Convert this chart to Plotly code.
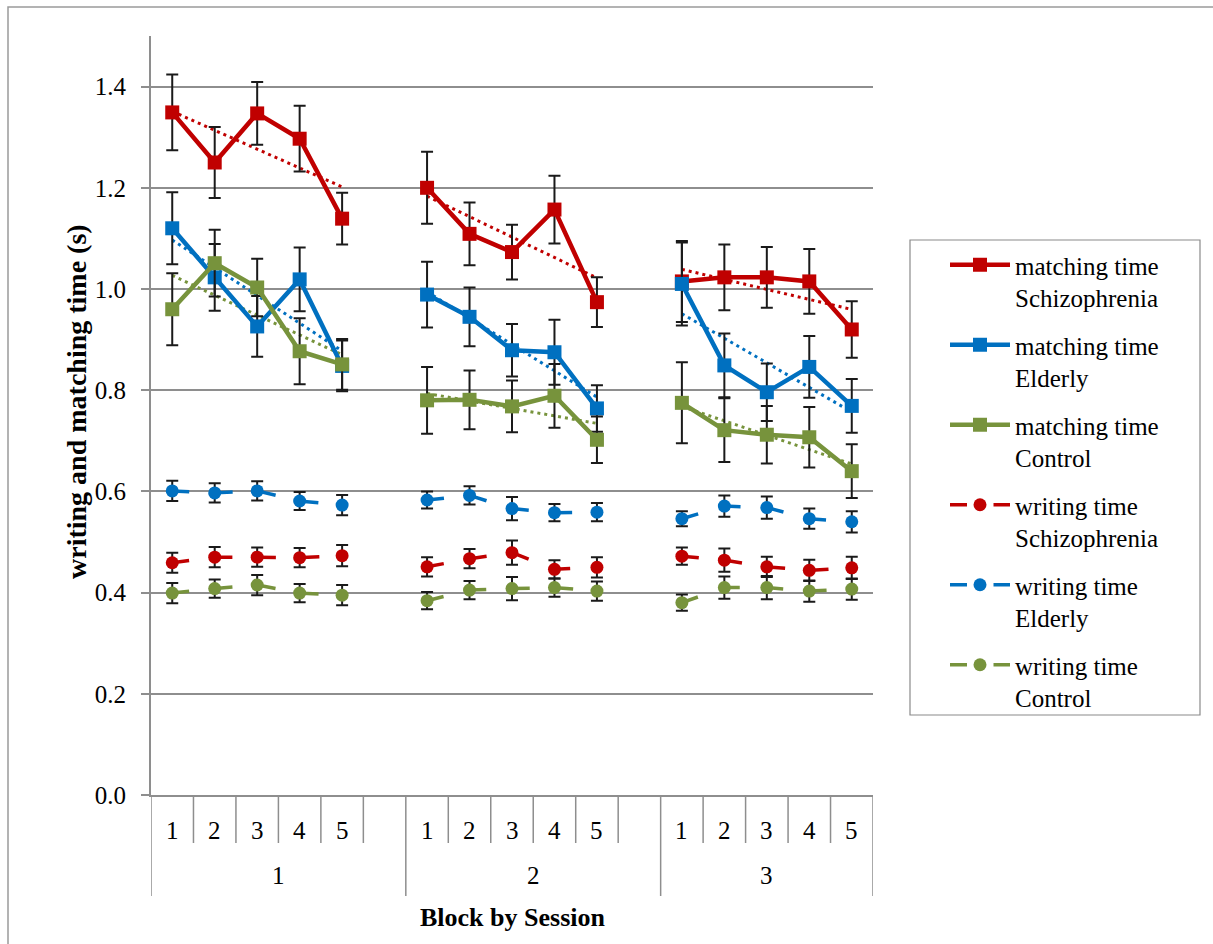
import numpy as np
import plotly.graph_objects as go

# ---- data: one inner list per session, blocks 1..5 ----
sessions = ["1", "2", "3"]
blocks = ["1", "2", "3", "4", "5"]

matching_schizophrenia = [[1.349, 1.250, 1.347, 1.297, 1.139],
                          [1.200, 1.109, 1.073, 1.157, 0.974],
                          [1.015, 1.023, 1.023, 1.015, 0.920]]
matching_schizophrenia_err = [[0.075, 0.070, 0.062, 0.065, 0.051],
                              [0.071, 0.062, 0.054, 0.067, 0.049],
                              [0.080, 0.065, 0.060, 0.064, 0.056]]

matching_elderly = [[1.120, 1.023, 0.926, 1.019, 0.848],
                    [0.989, 0.945, 0.879, 0.875, 0.764],
                    [1.010, 0.849, 0.796, 0.846, 0.769]]
matching_elderly_err = [[0.071, 0.066, 0.060, 0.063, 0.050],
                        [0.065, 0.058, 0.052, 0.064, 0.046],
                        [0.082, 0.063, 0.057, 0.061, 0.053]]

matching_control = [[0.960, 1.051, 1.003, 0.877, 0.851],
                    [0.780, 0.781, 0.768, 0.789, 0.702],
                    [0.775, 0.721, 0.712, 0.707, 0.640]]
matching_control_err = [[0.071, 0.066, 0.057, 0.065, 0.050],
                        [0.066, 0.058, 0.051, 0.063, 0.046],
                        [0.080, 0.063, 0.057, 0.060, 0.053]]

writing_schizophrenia = [[0.459, 0.470, 0.470, 0.469, 0.473],
                         [0.451, 0.467, 0.479, 0.446, 0.450],
                         [0.472, 0.464, 0.451, 0.444, 0.449]]
writing_schizophrenia_err = [[0.020, 0.020, 0.019, 0.019, 0.021],
                             [0.019, 0.019, 0.024, 0.018, 0.020],
                             [0.017, 0.023, 0.020, 0.021, 0.022]]

writing_elderly = [[0.601, 0.597, 0.601, 0.581, 0.573],
                   [0.583, 0.592, 0.566, 0.558, 0.559],
                   [0.546, 0.571, 0.568, 0.546, 0.540]]
writing_elderly_err = [[0.020, 0.019, 0.019, 0.018, 0.020],
                       [0.017, 0.018, 0.023, 0.017, 0.018],
                       [0.015, 0.021, 0.022, 0.020, 0.021]]

writing_control = [[0.399, 0.408, 0.415, 0.399, 0.395],
                   [0.384, 0.405, 0.408, 0.410, 0.403],
                   [0.380, 0.410, 0.410, 0.403, 0.407]]
writing_control_err = [[0.020, 0.018, 0.020, 0.018, 0.020],
                       [0.017, 0.018, 0.023, 0.018, 0.019],
                       [0.016, 0.022, 0.023, 0.021, 0.021]]

RED, BLUE, GREEN = "#C00000", "#0070C0", "#77933C"
FONT = "Liberation Serif, Times New Roman, serif"
GRID = "#8E8E8E"

# category slots: 6 per session (5 blocks + spacer), last session has no spacer
SLOTS_PER_SESSION = 6
n_slots = SLOTS_PER_SESSION * (len(sessions) - 1) + len(blocks)


def slot_x(s):
    return [s * SLOTS_PER_SESSION + b for b in range(len(blocks))]


series = [
    ("matching time<br>Schizophrenia", matching_schizophrenia, matching_schizophrenia_err, RED, "matching"),
    ("matching time<br>Elderly", matching_elderly, matching_elderly_err, BLUE, "matching"),
    ("matching time<br>Control", matching_control, matching_control_err, GREEN, "matching"),
    ("writing time<br>Schizophrenia", writing_schizophrenia, writing_schizophrenia_err, RED, "writing"),
    ("writing time<br>Elderly", writing_elderly, writing_elderly_err, BLUE, "writing"),
    ("writing time<br>Control", writing_control, writing_control_err, GREEN, "writing"),
]

fig = go.Figure()

# linear trend per session for the matching series (dotted)
for name, vals, errs, color, kind in series:
    if kind != "matching":
        continue
    for s in range(len(sessions)):
        xs = np.array(slot_x(s), dtype=float)
        slope, icpt = np.polyfit(xs, np.array(vals[s]), 1)
        fig.add_trace(go.Scatter(
            x=[xs[0], xs[-1]], y=[icpt + slope * xs[0], icpt + slope * xs[-1]],
            mode="lines", line=dict(color=color, width=3, dash="3px,4px"),
            showlegend=False, hoverinfo="skip"))

for gi, (name, vals, errs, color, kind) in enumerate(series):
    for s in range(len(sessions)):
        if kind == "matching":
            line = dict(color=color, width=4.5)
            marker = dict(symbol="square", size=14, color=color)
        else:
            line = dict(color=color, width=3.5, dash="17px,26.5px")
            marker = dict(symbol="circle", size=13, color=color)
        fig.add_trace(go.Scatter(
            x=slot_x(s), y=vals[s], mode="lines+markers",
            name=name, legendgroup=f"g{gi}", showlegend=(s == 0),
            line=line, marker=marker,
            error_y=dict(type="data", array=errs[s], visible=True,
                         color="#1A1A1A", thickness=2, width=6)))

# paper-coordinate helpers (plot area: x 151..873 px, y 36..795 px)
L, R, T, B = 151, 340, 36, 149
W, H = 1213, 944
pw, ph = W - L - R, H - T - B


def px_x(px):
    return (px - L) / pw


def px_y(py):
    return (H - B - py) / ph


shapes = []
annotations = []

# category grid below the x axis
short_y = px_y(843)
long_y = px_y(896)
for k in range(n_slots + 1):
    xb = k - 0.5
    is_session_edge = (k % SLOTS_PER_SESSION == 0) or k == n_slots
    shapes.append(dict(type="line", xref="x", yref="paper", x0=xb, x1=xb,
                       y0=0, y1=long_y if is_session_edge else short_y,
                       line=dict(color=GRID, width=1.5)))

for s, sess in enumerate(sessions):
    for b, blk in zip(slot_x(s), blocks):
        annotations.append(dict(x=b, y=px_y(830), xref="x", yref="paper",
                                text=blk, showarrow=False, yanchor="middle",
                                font=dict(family=FONT, size=25, color="black")))
    xs = slot_x(s)
    annotations.append(dict(x=(xs[0] + xs[-1]) / 2 + (0.5 if s < len(sessions) - 1 else 0),
                            y=px_y(875), xref="x", yref="paper",
                            text=sess, showarrow=False, yanchor="middle",
                            font=dict(family=FONT, size=25, color="black")))

annotations.append(dict(x=(px_x(151) + px_x(873)) / 2, y=px_y(917), xref="paper", yref="paper",
                        text="<b>Block by Session</b>", showarrow=False, yanchor="middle",
                        font=dict(family=FONT, size=26, color="black")))
annotations.append(dict(x=px_x(76), y=px_y(402), xref="paper", yref="paper", textangle=-90,
                        text="<b>writing and matching time (s)</b>", showarrow=False,
                        xanchor="center", yanchor="middle",
                        font=dict(family=FONT, size=28, color="black")))

# legend frame and outer frame
shapes.append(dict(type="rect", xref="paper", yref="paper",
                   x0=px_x(910), x1=px_x(1200), y0=px_y(715), y1=px_y(240),
                   line=dict(color="#8A8A8A", width=1.2)))
shapes.append(dict(type="rect", xref="paper", yref="paper",
                   x0=px_x(8), x1=px_x(1260), y0=px_y(990), y1=px_y(7),
                   line=dict(color="#9A9A9A", width=1.5)))

fig.update_layout(
    width=W, height=H,
    margin=dict(l=L, r=R, t=T, b=B, autoexpand=False),
    paper_bgcolor="white", plot_bgcolor="white",
    font=dict(family=FONT, color="black"),
    xaxis=dict(range=[-0.5, n_slots - 0.5], showgrid=False, zeroline=False,
               showticklabels=False, ticks="", showline=True,
               linecolor=GRID, linewidth=2),
    yaxis=dict(range=[0, 1.5], tickvals=[0, 0.2, 0.4, 0.6, 0.8, 1.0, 1.2, 1.4],
               tickformat=".1f", showgrid=True, gridcolor=GRID, gridwidth=2,
               zeroline=False, showline=True, linecolor=GRID, linewidth=2,
               ticks="outside", ticklen=8, tickcolor=GRID, tickwidth=1.5,
               ticklabelstandoff=10,
               tickfont=dict(family=FONT, size=25, color="black")),
    legend=dict(x=px_x(945), y=px_y(242), xanchor="left", yanchor="top",
                bgcolor="rgba(0,0,0,0)", borderwidth=0, itemwidth=60,
                valign="top", tracegroupgap=12,
                font=dict(family=FONT, size=25, color="black")),
    shapes=shapes, annotations=annotations,
    showlegend=True,
)

fig.write_html("out.html")
